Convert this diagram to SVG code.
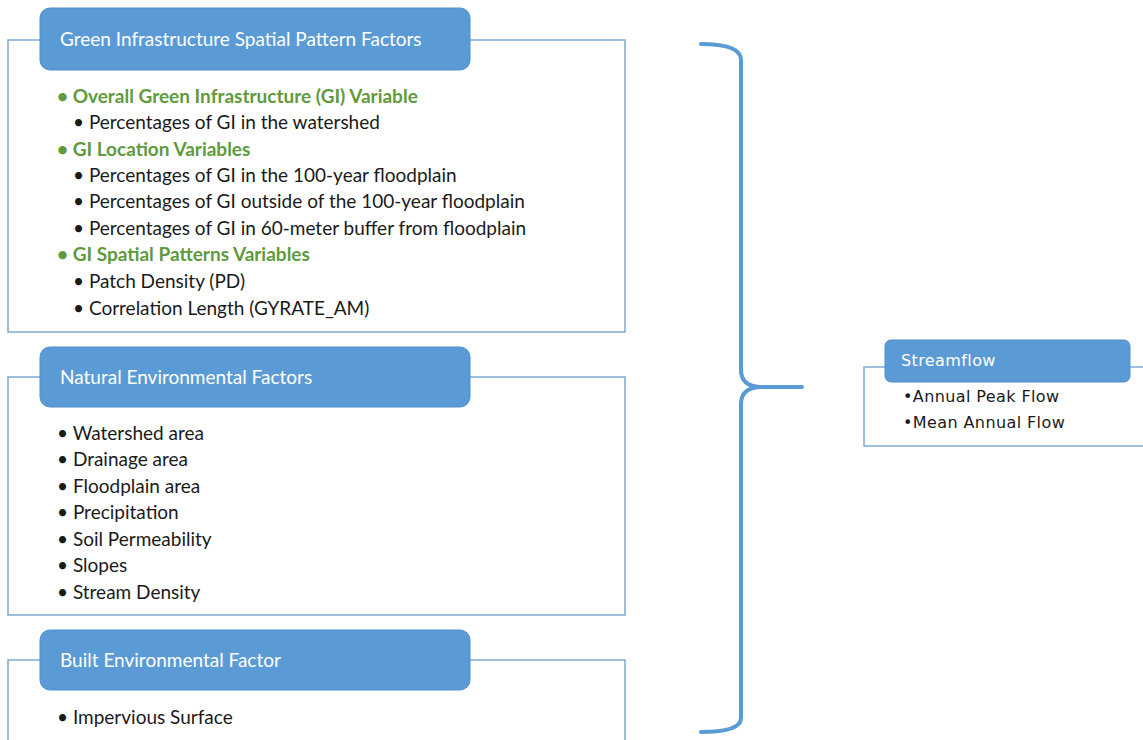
<svg xmlns="http://www.w3.org/2000/svg" width="1143" height="740" viewBox="0 0 1143 740">
<style>
.frame{fill:none;stroke:#7fa9d3;stroke-width:1.5}
.hdr{fill:#5b9bd5;stroke:#4f8fcc;stroke-width:1}
.ht{font-family:Lato,"Open Sans",sans-serif;font-size:19px;fill:#ffffff}
.t{font-family:Lato,"Open Sans",sans-serif;font-size:19px;fill:#1a1a1a}
.g{font-family:Lato,"Open Sans",sans-serif;font-size:19px;fill:#5f9a3c;font-weight:bold}
.st{font-family:"DejaVu Sans",Verdana,sans-serif;font-size:16px;fill:#ffffff;letter-spacing:0.4px}
.s{font-family:"DejaVu Sans",Verdana,sans-serif;font-size:16px;fill:#1a1a1a;letter-spacing:0.4px}
.brace{fill:none;stroke:#5b9bd5;stroke-width:4;stroke-linecap:round;stroke-linejoin:round}
</style>
<rect width="1143" height="740" fill="#ffffff"/>
<g id="gi-factors">
<rect class="frame" x="8" y="40" width="617" height="292"/>
<rect class="hdr" x="40" y="8" width="430" height="62" rx="10"/>
<text class="ht" x="60" y="46">Green Infrastructure Spatial Pattern Factors</text>
<text class="g" x="57" y="103">• Overall Green Infrastructure (GI) Variable</text>
<text class="t" x="73" y="129">• Percentages of GI in the watershed</text>
<text class="g" x="57" y="156">• GI Location Variables</text>
<text class="t" x="73" y="182">• Percentages of GI in the 100-year floodplain</text>
<text class="t" x="73" y="208">• Percentages of GI outside of the 100-year floodplain</text>
<text class="t" x="73" y="235">• Percentages of GI in 60-meter buffer from floodplain</text>
<text class="g" x="57" y="261">• GI Spatial Patterns Variables</text>
<text class="t" x="73" y="288">• Patch Density (PD)</text>
<text class="t" x="73" y="315">• Correlation Length (GYRATE_AM)</text>
</g>
<g id="natural-factors">
<rect class="frame" x="8" y="377" width="617" height="238"/>
<rect class="hdr" x="40" y="347" width="430" height="60" rx="10"/>
<text class="ht" x="60" y="384">Natural Environmental Factors</text>
<text class="t" x="57" y="440">• Watershed area</text>
<text class="t" x="57" y="466">• Drainage area</text>
<text class="t" x="57" y="493">• Floodplain area</text>
<text class="t" x="57" y="519">• Precipitation</text>
<text class="t" x="57" y="546">• Soil Permeability</text>
<text class="t" x="57" y="572">• Slopes</text>
<text class="t" x="57" y="599">• Stream Density</text>
</g>
<g id="built-factor">
<path class="frame" d="M8,740 V660 H40 M470,660 H625 V740"/>
<rect class="hdr" x="40" y="630" width="430" height="60" rx="10"/>
<text class="ht" x="60" y="667">Built Environmental Factor</text>
<text class="t" x="57" y="724">• Impervious Surface</text>
</g>
<g id="connectors">
<path class="brace" d="M701,44 Q741,44 741,60 V370 Q741,386 760,387 H802 M760,387 Q741,388 741,404 V718 Q741,732 701,732"/>
</g>
<g id="streamflow">
<path class="frame" d="M1143,367 H1130 M885,367 H864 V446 H1143"/>
<rect class="hdr" x="885" y="340" width="245" height="42" rx="6"/>
<text class="st" x="901" y="366">Streamflow</text>
<text class="s" x="903" y="402">•Annual Peak Flow</text>
<text class="s" x="903" y="428">•Mean Annual Flow</text>
</g>
</svg>
